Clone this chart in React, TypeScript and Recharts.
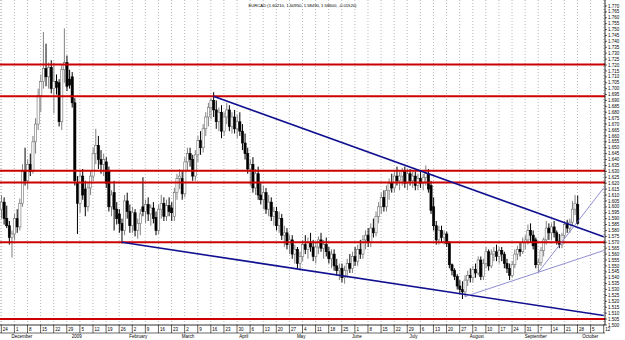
import React from "react";
import {
  ComposedChart,
  Bar,
  XAxis,
  YAxis,
  CartesianGrid,
  ReferenceLine,
} from "recharts";

// daily EURCAD candles, Nov 24 2008 onwards: [open, high, low, close]
const ohlc: number[][] = [
  [1.598, 1.61, 1.59, 1.604], [1.604, 1.608, 1.585, 1.59], [1.59, 1.601, 1.582, 1.584],
  [1.584, 1.588, 1.568, 1.574], [1.574, 1.58, 1.557, 1.577], [1.577, 1.594, 1.572, 1.59],
  [1.59, 1.598, 1.578, 1.583], [1.583, 1.607, 1.58, 1.603], [1.603, 1.636, 1.6, 1.63],
  [1.63, 1.65, 1.618, 1.622], [1.622, 1.64, 1.615, 1.636], [1.636, 1.645, 1.626, 1.63],
  [1.63, 1.66, 1.628, 1.655], [1.655, 1.675, 1.645, 1.67], [1.67, 1.7, 1.665, 1.694],
  [1.694, 1.712, 1.68, 1.706], [1.706, 1.748, 1.7, 1.717], [1.717, 1.738, 1.702, 1.71],
  [1.71, 1.722, 1.7, 1.718], [1.718, 1.724, 1.696, 1.7], [1.7, 1.722, 1.679, 1.706],
  [1.706, 1.712, 1.695, 1.701], [1.705, 1.708, 1.668, 1.672], [1.672, 1.72, 1.665, 1.716],
  [1.716, 1.751, 1.705, 1.722], [1.722, 1.728, 1.698, 1.702], [1.708, 1.716, 1.7, 1.703],
  [1.71, 1.714, 1.684, 1.688], [1.688, 1.692, 1.618, 1.622], [1.62, 1.626, 1.577, 1.603],
  [1.603, 1.63, 1.595, 1.626], [1.626, 1.632, 1.606, 1.61], [1.615, 1.622, 1.592, 1.6],
  [1.6, 1.62, 1.596, 1.616], [1.616, 1.63, 1.61, 1.626], [1.626, 1.65, 1.622, 1.645],
  [1.645, 1.666, 1.636, 1.652], [1.652, 1.66, 1.632, 1.64], [1.64, 1.648, 1.628, 1.636],
  [1.636, 1.645, 1.626, 1.64], [1.638, 1.642, 1.616, 1.62], [1.63, 1.634, 1.596, 1.6],
  [1.6, 1.614, 1.592, 1.61], [1.612, 1.622, 1.58, 1.598], [1.598, 1.604, 1.585, 1.59],
  [1.594, 1.598, 1.578, 1.586], [1.586, 1.59, 1.569, 1.58], [1.58, 1.61, 1.576, 1.605],
  [1.605, 1.612, 1.59, 1.596], [1.596, 1.602, 1.578, 1.584], [1.584, 1.6, 1.578, 1.595],
  [1.595, 1.598, 1.575, 1.58], [1.58, 1.59, 1.573, 1.586], [1.586, 1.598, 1.576, 1.594],
  [1.6, 1.625, 1.592, 1.596], [1.596, 1.606, 1.586, 1.602], [1.602, 1.608, 1.588, 1.594],
  [1.594, 1.602, 1.584, 1.599], [1.599, 1.604, 1.586, 1.59], [1.591, 1.596, 1.576, 1.58],
  [1.58, 1.602, 1.577, 1.598], [1.598, 1.61, 1.59, 1.603], [1.603, 1.608, 1.588, 1.592],
  [1.592, 1.606, 1.588, 1.601], [1.601, 1.608, 1.592, 1.596], [1.599, 1.604, 1.588, 1.595],
  [1.592, 1.616, 1.588, 1.612], [1.612, 1.628, 1.606, 1.624], [1.624, 1.632, 1.615, 1.626],
  [1.624, 1.63, 1.606, 1.611], [1.611, 1.642, 1.608, 1.638], [1.638, 1.65, 1.63, 1.645],
  [1.645, 1.65, 1.634, 1.64], [1.64, 1.644, 1.622, 1.626], [1.626, 1.648, 1.622, 1.644],
  [1.644, 1.66, 1.638, 1.656], [1.656, 1.664, 1.644, 1.65], [1.65, 1.67, 1.646, 1.666],
  [1.666, 1.68, 1.66, 1.676], [1.676, 1.688, 1.668, 1.684], [1.684, 1.692, 1.674, 1.69],
  [1.69, 1.697, 1.676, 1.682], [1.682, 1.69, 1.666, 1.672], [1.672, 1.684, 1.664, 1.68],
  [1.68, 1.686, 1.658, 1.664], [1.664, 1.68, 1.66, 1.676], [1.676, 1.688, 1.67, 1.682],
  [1.682, 1.686, 1.664, 1.668], [1.668, 1.68, 1.662, 1.676], [1.676, 1.682, 1.662, 1.666],
  [1.666, 1.678, 1.658, 1.672], [1.672, 1.68, 1.66, 1.664], [1.664, 1.67, 1.648, 1.654],
  [1.654, 1.662, 1.64, 1.645], [1.645, 1.65, 1.628, 1.632], [1.632, 1.64, 1.618, 1.636],
  [1.636, 1.642, 1.612, 1.616], [1.616, 1.632, 1.61, 1.628], [1.628, 1.634, 1.606, 1.61],
  [1.61, 1.62, 1.602, 1.606], [1.606, 1.618, 1.598, 1.612], [1.612, 1.616, 1.594, 1.598],
  [1.598, 1.61, 1.592, 1.604], [1.604, 1.608, 1.588, 1.592], [1.592, 1.6, 1.584, 1.596],
  [1.596, 1.6, 1.58, 1.584], [1.584, 1.596, 1.578, 1.59], [1.59, 1.594, 1.572, 1.576],
  [1.576, 1.584, 1.566, 1.578], [1.578, 1.582, 1.564, 1.568], [1.568, 1.576, 1.56, 1.572],
  [1.572, 1.576, 1.556, 1.56], [1.56, 1.568, 1.552, 1.564], [1.564, 1.566, 1.548, 1.552],
  [1.552, 1.562, 1.546, 1.558], [1.558, 1.572, 1.554, 1.568], [1.568, 1.576, 1.56, 1.564],
  [1.564, 1.574, 1.556, 1.57], [1.57, 1.578, 1.562, 1.566], [1.566, 1.572, 1.554, 1.558],
  [1.558, 1.57, 1.552, 1.566], [1.566, 1.575, 1.56, 1.572], [1.572, 1.578, 1.562, 1.565],
  [1.565, 1.572, 1.556, 1.568], [1.568, 1.574, 1.558, 1.562], [1.562, 1.566, 1.552, 1.556],
  [1.556, 1.564, 1.548, 1.56], [1.56, 1.564, 1.546, 1.55], [1.55, 1.556, 1.542, 1.546],
  [1.546, 1.552, 1.538, 1.548], [1.548, 1.552, 1.536, 1.54], [1.54, 1.55, 1.535, 1.546],
  [1.546, 1.556, 1.54, 1.552], [1.552, 1.56, 1.544, 1.548], [1.548, 1.562, 1.544, 1.558],
  [1.558, 1.566, 1.55, 1.554], [1.554, 1.568, 1.55, 1.564], [1.564, 1.572, 1.556, 1.56],
  [1.56, 1.576, 1.556, 1.572], [1.572, 1.58, 1.564, 1.576], [1.576, 1.582, 1.566, 1.57],
  [1.57, 1.586, 1.566, 1.582], [1.582, 1.59, 1.574, 1.578], [1.578, 1.596, 1.575, 1.592],
  [1.592, 1.604, 1.586, 1.6], [1.6, 1.612, 1.594, 1.608], [1.608, 1.614, 1.596, 1.6],
  [1.6, 1.618, 1.596, 1.614], [1.614, 1.624, 1.606, 1.62], [1.62, 1.628, 1.612, 1.616],
  [1.616, 1.63, 1.612, 1.626], [1.626, 1.634, 1.618, 1.622], [1.622, 1.63, 1.614, 1.626],
  [1.626, 1.633, 1.618, 1.63], [1.63, 1.634, 1.616, 1.62], [1.62, 1.632, 1.614, 1.628],
  [1.628, 1.632, 1.618, 1.622], [1.622, 1.63, 1.616, 1.626], [1.626, 1.63, 1.614, 1.618],
  [1.618, 1.628, 1.614, 1.624], [1.624, 1.631, 1.616, 1.62], [1.62, 1.628, 1.614, 1.625],
  [1.625, 1.635, 1.618, 1.628], [1.628, 1.632, 1.612, 1.615], [1.618, 1.622, 1.594, 1.597],
  [1.6, 1.608, 1.58, 1.584], [1.584, 1.588, 1.568, 1.572], [1.572, 1.584, 1.568, 1.58],
  [1.58, 1.584, 1.57, 1.574], [1.574, 1.58, 1.568, 1.577], [1.577, 1.579, 1.566, 1.569],
  [1.569, 1.571, 1.548, 1.551], [1.551, 1.552, 1.542, 1.546], [1.546, 1.548, 1.538, 1.541],
  [1.541, 1.543, 1.53, 1.533], [1.533, 1.538, 1.526, 1.53], [1.53, 1.537, 1.522, 1.528],
  [1.528, 1.542, 1.524, 1.538], [1.538, 1.546, 1.533, 1.542], [1.542, 1.548, 1.536, 1.54],
  [1.54, 1.55, 1.536, 1.547], [1.547, 1.552, 1.54, 1.544], [1.544, 1.558, 1.542, 1.555],
  [1.555, 1.558, 1.538, 1.541], [1.541, 1.556, 1.538, 1.552], [1.552, 1.566, 1.548, 1.562],
  [1.562, 1.564, 1.546, 1.55], [1.55, 1.564, 1.548, 1.56], [1.56, 1.566, 1.554, 1.562],
  [1.562, 1.568, 1.554, 1.558], [1.558, 1.566, 1.552, 1.563], [1.563, 1.566, 1.554, 1.56],
  [1.56, 1.562, 1.548, 1.552], [1.552, 1.556, 1.544, 1.548], [1.548, 1.552, 1.538, 1.542],
  [1.542, 1.554, 1.54, 1.551], [1.551, 1.564, 1.548, 1.56], [1.56, 1.567, 1.555, 1.564],
  [1.564, 1.57, 1.558, 1.562], [1.562, 1.574, 1.56, 1.57], [1.57, 1.576, 1.564, 1.572],
  [1.572, 1.585, 1.568, 1.58], [1.58, 1.586, 1.57, 1.576], [1.576, 1.58, 1.564, 1.567],
  [1.572, 1.574, 1.548, 1.551], [1.551, 1.556, 1.545, 1.553], [1.553, 1.566, 1.55, 1.563],
  [1.563, 1.574, 1.558, 1.572], [1.572, 1.588, 1.568, 1.582], [1.582, 1.586, 1.572, 1.578],
  [1.578, 1.586, 1.572, 1.583], [1.583, 1.588, 1.574, 1.578], [1.578, 1.58, 1.568, 1.571],
  [1.571, 1.577, 1.565, 1.568], [1.568, 1.578, 1.565, 1.576], [1.576, 1.588, 1.573, 1.585],
  [1.585, 1.589, 1.578, 1.582], [1.582, 1.59, 1.578, 1.587], [1.587, 1.605, 1.584, 1.598],
  [1.598, 1.61, 1.593, 1.603], [1.6021, 1.6095, 1.5849, 1.586],
];

// Monday of each week on the time axis
const weekLabels = [
  "24", "1", "8", "15", "22", "29", "5", "12", "19", "26", "2", "9", "16", "23",
  "2", "9", "16", "23", "30", "6", "13", "20", "27", "4", "11", "18", "25",
  "1", "8", "15", "22", "29", "6", "13", "20", "27", "3", "10", "17", "24", "31",
  "7", "14", "21", "28", "5", "12",
];
const monthNames = ["December", "2009", "February", "March", "April", "May", "June", "July", "August", "September", "October"];
const monthStarts = [5, 28, 50, 70, 92, 114, 135, 157, 180, 201, 223];

const yTicks = [
  1.5, 1.505, 1.51, 1.515, 1.52, 1.525, 1.53, 1.535, 1.54, 1.545, 1.55, 1.555, 1.56, 1.565,
  1.57, 1.575, 1.58, 1.585, 1.59, 1.595, 1.6, 1.605, 1.61, 1.615, 1.62, 1.625, 1.63, 1.635,
  1.64, 1.645, 1.65, 1.655, 1.66, 1.665, 1.67, 1.675, 1.68, 1.685, 1.69, 1.695, 1.7, 1.705,
  1.71, 1.715, 1.72, 1.725, 1.73, 1.735, 1.74, 1.745, 1.75, 1.755, 1.76, 1.765, 1.77,
];

// horizontal support / resistance levels
const levels = [1.7205, 1.6935, 1.6305, 1.6205, 1.57, 1.505];
// trend lines: [x1, y1, x2, y2] in day index / price
const mainTrends = [
  [81, 1.6935, 230, 1.5746],
  [46, 1.57, 230, 1.508],
];
const thinTrends = [
  [177, 1.524, 230, 1.563],
  [205, 1.5445, 230, 1.616],
];

const AXIS_DAYS = 231;
const rows = Array.from({ length: AXIS_DAYS }, (_, i) => {
  const c = ohlc[i];
  return c ? { i, o: c[0], h: c[1], l: c[2], c: c[3] } : { i };
});

const FONT = "'Liberation Sans', Arial, sans-serif";

const Candle = (props: any) => {
  const { x, y, width, height, payload } = props;
  if (!payload || payload.h == null) return <g />;
  const top = Math.min(y, y + height);
  const bot = Math.max(y, y + height);
  const span = payload.h - payload.l;
  const k = span > 0 ? (bot - top) / span : 0;
  const yo = top + (payload.h - payload.o) * k;
  const yc = top + (payload.h - payload.c) * k;
  const cx = x + width / 2;
  const up = payload.c >= payload.o;
  const bTop = Math.min(yo, yc);
  const bH = Math.max(Math.abs(yo - yc), 0.8);
  return (
    <g>
      <line x1={cx} x2={cx} y1={top} y2={bot} stroke={up ? "#808080" : "#000"} strokeWidth={1} />
      <rect
        x={cx - 1.1}
        y={bTop}
        width={2.2}
        height={bH}
        fill={up ? "#fff" : "#000"}
        stroke={up ? "#707070" : "#000"}
        strokeWidth={0.6}
      />
    </g>
  );
};

const WeekTick = (props: any) => {
  const { x, y, payload } = props;
  const label = weekLabels[Math.round(payload.value / 5)];
  return (
    <g>
      <line x1={x} x2={x} y1={y} y2={y + 8} stroke="#000" strokeWidth={0.6} />
      <text x={x + 1.5} y={y + 6} fontSize={4.5} fontFamily={FONT} fill="#000">
        {label}
      </text>
    </g>
  );
};

const MonthTick = (props: any) => {
  const { x, y, payload } = props;
  const k = monthStarts.indexOf(payload.value);
  if (k < 0) return <g />;
  return (
    <text x={x - 3} y={y + 5} fontSize={4.5} fontFamily={FONT} fill="#000">
      {monthNames[k]}
    </text>
  );
};

export default function App() {
  return (
    <div style={{ position: "relative", width: 625, height: 340, background: "#fff" }}>
      <style>{"body{margin:0}"}</style>
      <div
        style={{
          position: "absolute",
          top: 3,
          left: 0,
          width: 605,
          textAlign: "center",
          fontSize: 4.2,
          fontFamily: FONT,
          zIndex: 2,
        }}
      >
        EURCAD (1.60210, 1.60950, 1.58490, 1.58600, -0.01520)
      </div>
      <ComposedChart
        width={625}
        height={340}
        data={rows}
        margin={{ top: 0, right: 0, bottom: 0, left: 0 }}
        barCategoryGap={0}
      >
        <CartesianGrid vertical horizontal={false} stroke="#b8b8b8" strokeDasharray="1 2" />
        <XAxis
          dataKey="i"
          interval={4}
          tick={<WeekTick />}
          tickLine={false}
          tickSize={0}
          tickMargin={0}
          axisLine={{ stroke: "#000", strokeWidth: 0.8 }}
          height={8}
        />
        <XAxis
          xAxisId="m"
          dataKey="i"
          interval={0}
          tick={<MonthTick />}
          tickLine={false}
          tickSize={0}
          tickMargin={0}
          axisLine={{ stroke: "#000", strokeWidth: 0.6 }}
          height={7}
        />
        <YAxis
          orientation="right"
          domain={[1.5, 1.775]}
          ticks={yTicks}
          interval={0}
          allowDataOverflow
          width={20}
          tickSize={2}
          tickMargin={1}
          tickFormatter={(v: number) => v.toFixed(3)}
          tick={{ fontSize: 4.5, fontFamily: FONT, fill: "#000" }}
          axisLine={{ stroke: "#000", strokeWidth: 0.8 }}
          tickLine={{ stroke: "#000", strokeWidth: 0.6 }}
        />
        {levels.map((v) => (
          <ReferenceLine key={v} y={v} stroke="#cc0000" strokeWidth={2} />
        ))}
        {mainTrends.map((t, n) => (
          <ReferenceLine
            key={"m" + n}
            segment={[{ x: t[0], y: t[1] }, { x: t[2], y: t[3] }]}
            stroke="#101090"
            strokeWidth={1.6}
          />
        ))}
        {thinTrends.map((t, n) => (
          <ReferenceLine
            key={"t" + n}
            segment={[{ x: t[0], y: t[1] }, { x: t[2], y: t[3] }]}
            stroke="#7272c8"
            strokeWidth={0.8}
          />
        ))}
        <Bar
          dataKey={(d: any) => (d.h == null ? null : [d.l, d.h])}
          shape={<Candle />}
          isAnimationActive={false}
        />
      </ComposedChart>
    </div>
  );
}
